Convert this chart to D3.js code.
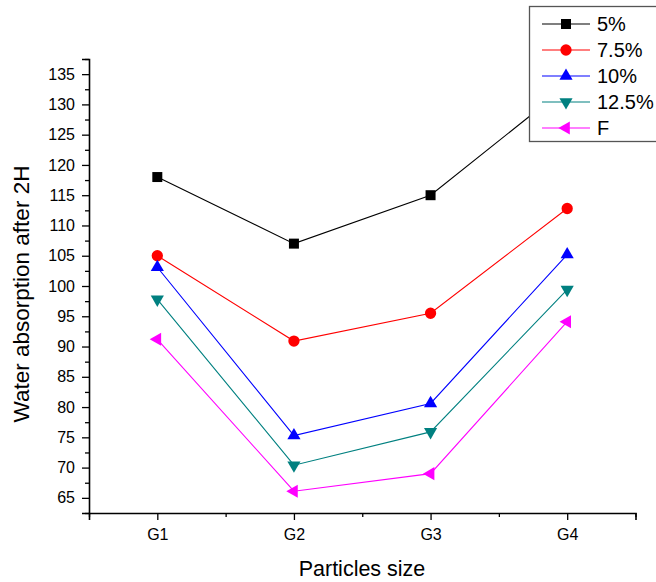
<!DOCTYPE html>
<html><head><meta charset="utf-8">
<script src="https://cdn.jsdelivr.net/npm/d3@7"></script>
<style>body{margin:0;background:#fff}svg{display:block}text{font-family:"Liberation Sans",Arial,sans-serif}</style>
</head><body>
<svg id="c" width="656" height="582"></svg>
<script>
const categories = ["G1","G2","G3","G4"];
const seriesNames = ["5%","7.5%","10%","12.5%","F"];
const s5 = [118, 107, 115, 133];
const s75 = [105, 90.9, 95.5, 112.8];
const s10 = [103.1, 75.3, 80.6, 105.2];
const s125 = [97.8, 70.4, 75.9, 99.4];
const sF = [91.2, 66.1, 69.0, 94.1];
const yMajorTicks = [65,70,75,80,85,90,95,100,105,110,115,120,125,130,135];
const yMinorTicks = [62.5,67.5,72.5,77.5,82.5,87.5,92.5,97.5,102.5,107.5,112.5,117.5,122.5,127.5,132.5,137.5];
const xMinorTicks = [0.5,1.5,2.5,3.5,4.5];

const colors = ["#000000","#ff0000","#0000ff","#008080","#ff00ff"];
const symbols = [
  {t:d3.symbolSquare, size:100, rot:0},
  {t:d3.symbolCircle, size:100, rot:0},
  {t:d3.symbolTriangle, size:75, rot:0},
  {t:d3.symbolTriangle, size:75, rot:180},
  {t:d3.symbolTriangle, size:75, rot:-90}
];
const allSeries = [s5, s75, s10, s125, sF];

const svg = d3.select("#c");
const x = d3.scaleLinear().domain([0.5, 4.5]).range([89, 635.5]);
const y = d3.scaleLinear().domain([62.5, 137.5]).range([513, 59]);

// Y axis
svg.append("g").attr("transform","translate(89,0)")
  .call(d3.axisLeft(y).tickValues(yMajorTicks).tickSize(7).tickPadding(7).tickFormat(d3.format("d")));
svg.append("g").attr("transform","translate(89,0)")
  .call(d3.axisLeft(y).tickValues(yMinorTicks).tickSize(4).tickFormat(""))
  .select(".domain").remove();
// X axis
svg.append("g").attr("transform","translate(0,513)")
  .call(d3.axisBottom(x).tickValues([1,2,3,4]).tickSize(7).tickPadding(9).tickFormat((d,i)=>categories[i]));
svg.append("g").attr("transform","translate(0,513)")
  .call(d3.axisBottom(x).tickValues(xMinorTicks).tickSize(4).tickFormat(""))
  .select(".domain").remove();
svg.selectAll(".domain").attr("stroke","#000").attr("stroke-width",1.6);
svg.selectAll(".tick line").attr("stroke","#000").attr("stroke-width",1.3);
svg.selectAll(".tick text").attr("font-size",16).attr("fill","#000")
  .style("font-family","'Liberation Sans',Arial,sans-serif");

// Titles
svg.append("text").attr("x", 362).attr("y", 576).attr("text-anchor","middle")
  .attr("font-size",21.5).text("Particles size");
svg.append("text").attr("transform","translate(29,294) rotate(-90)").attr("text-anchor","middle")
  .attr("font-size",22.5).text("Water absorption after 2H");

// Lines & markers
const line = d3.line().x((d,i)=>x(i+1)).y(d=>y(d));
allSeries.forEach((s,k)=>{
  svg.append("path").datum(s).attr("d",line).attr("fill","none")
    .attr("stroke",colors[k]).attr("stroke-width",1.1);
});
allSeries.forEach((s,k)=>{
  const sym = d3.symbol().type(symbols[k].t).size(symbols[k].size);
  svg.append("g").selectAll("path").data(s).join("path")
    .attr("d",sym)
    .attr("transform",(d,i)=>`translate(${x(i+1)},${y(d)}) rotate(${symbols[k].rot})`)
    .attr("fill",colors[k]);
});

// Legend
const lg = svg.append("g");
lg.append("rect").attr("x",529.5).attr("y",6.5).attr("width",140).attr("height",135)
  .attr("fill","#fff").attr("stroke","#555").attr("stroke-width",1.3);
seriesNames.forEach((n,k)=>{
  const yy = 24 + k*26;
  lg.append("line").attr("x1",542).attr("x2",590).attr("y1",yy).attr("y2",yy)
    .attr("stroke",colors[k]).attr("stroke-width",1.1);
  lg.append("path").attr("d",d3.symbol().type(symbols[k].t).size(symbols[k].size)())
    .attr("transform",`translate(566,${yy}) rotate(${symbols[k].rot})`).attr("fill",colors[k]);
  lg.append("text").attr("x",597).attr("y",yy).attr("dy","0.36em").attr("font-size",20).text(n);
});
</script>
</body></html>
